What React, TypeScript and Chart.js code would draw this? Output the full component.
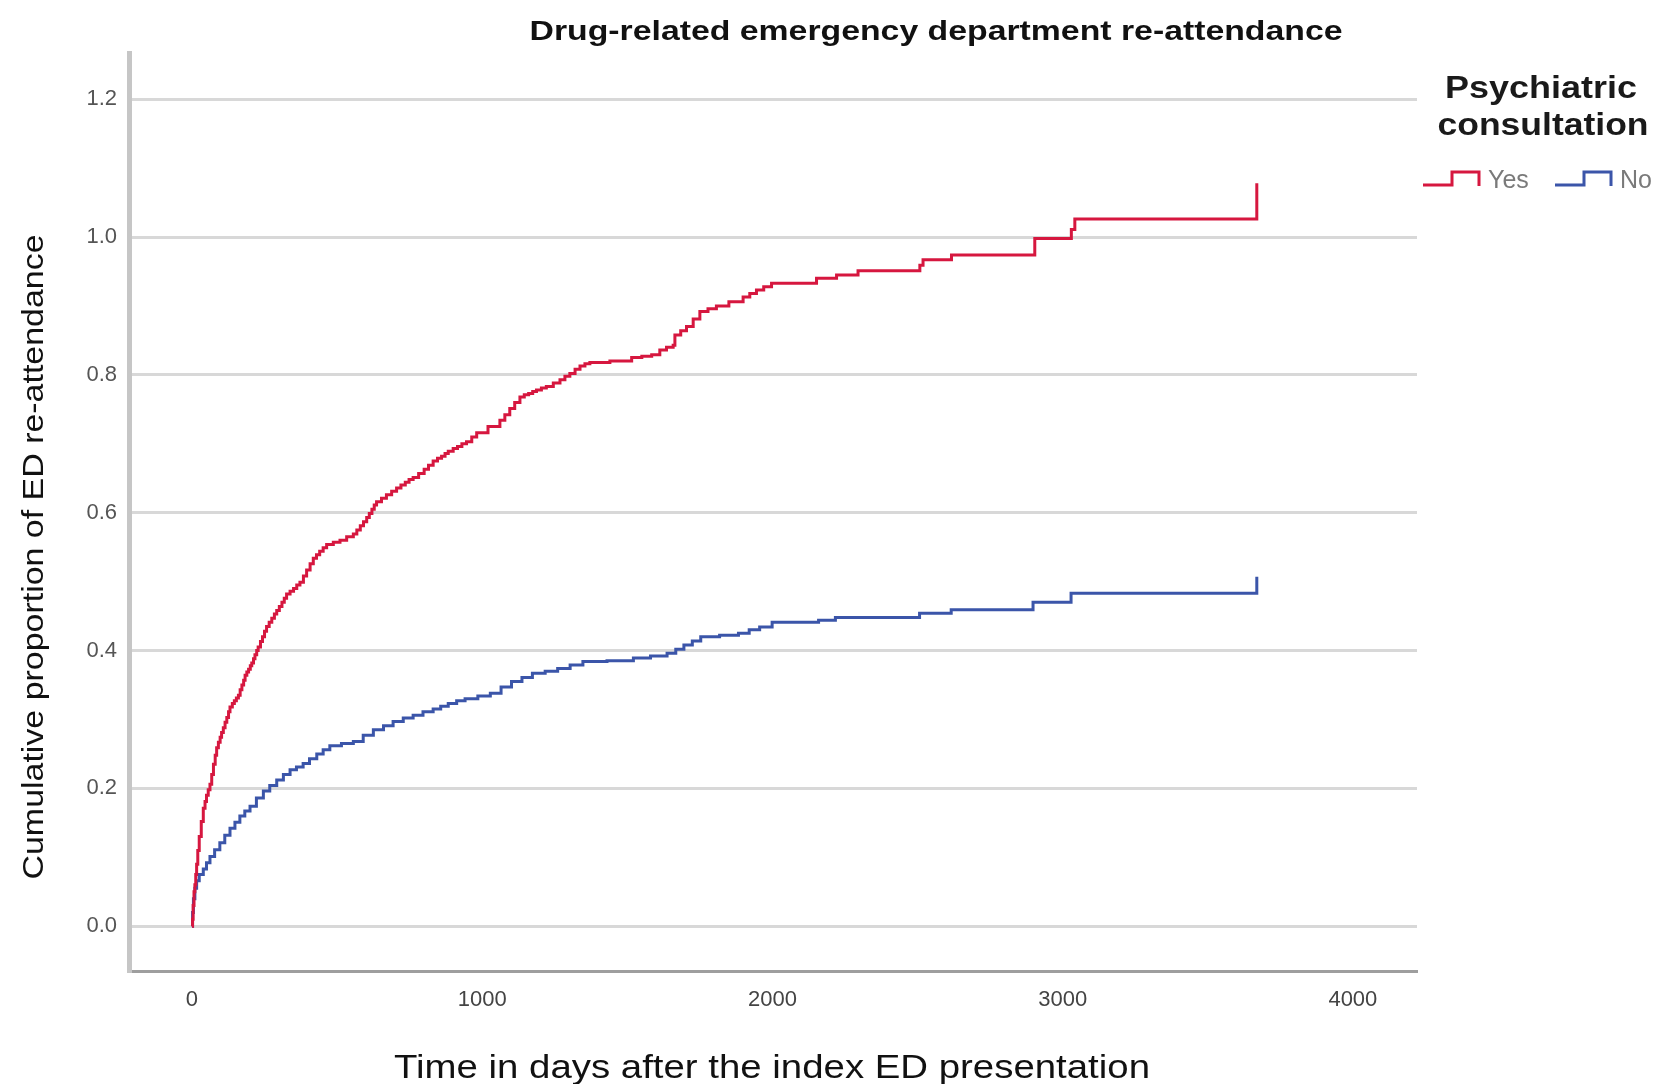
import React, { useEffect, useRef } from "react";
import { Chart, registerables } from "chart.js";

Chart.register(...registerables);

const TITLE = "Drug-related emergency department re-attendance";
const X_TITLE = "Time in days after the index ED presentation";
const Y_TITLE = "Cumulative proportion of ED re-attendance";
const LEGEND_TITLE = ["Psychiatric", "consultation"];
const SERIES_LABELS = ["Yes", "No"];
const X_TICKS = [0, 1000, 2000, 3000, 4000];
const Y_TICKS = [0, 0.2, 0.4, 0.6, 0.8, 1.0, 1.2];

const YES_DAYS = [
  0, 2, 4, 7, 10, 13, 16, 20, 25, 32, 39, 45, 50, 56, 62, 68, 74, 80, 85, 91, 97, 102, 108, 114,
  120, 126, 131, 139, 146, 153, 160, 166, 172, 178, 183, 189, 195, 201, 206, 212, 217, 223, 228,
  236, 243, 250, 257, 266, 275, 284, 292, 301, 310, 318, 326, 338, 350, 361, 372, 384, 395, 407,
  418, 429, 440, 452, 464, 487, 510, 533, 556, 568, 580, 591, 602, 611, 620, 628, 636, 653, 670,
  688, 705, 720, 735, 748, 762, 781, 800, 815, 831, 846, 860, 872, 883, 900, 915, 930, 946, 964,
  981, 1020, 1061, 1078, 1095, 1112, 1130, 1145, 1160, 1174, 1187, 1204, 1221, 1245, 1268, 1285,
  1302, 1320, 1337, 1354, 1371, 1440, 1515, 1550, 1584, 1612, 1635, 1658, 1664, 1684, 1704, 1727,
  1750, 1778, 1807, 1850, 1899, 1922, 1945, 1970, 1997, 2152, 2221, 2295, 2508, 2519, 2617, 2904,
  3030, 3042, 3669,
];
const YES_PROP = [
  0, 0.01, 0.03, 0.05, 0.06, 0.075, 0.09, 0.11, 0.13, 0.152, 0.171, 0.181, 0.19, 0.198, 0.206,
  0.22, 0.235, 0.248, 0.259, 0.267, 0.274, 0.281, 0.288, 0.296, 0.303, 0.311, 0.318, 0.323, 0.327,
  0.331, 0.335, 0.343, 0.35, 0.357, 0.364, 0.369, 0.373, 0.378, 0.382, 0.388, 0.394, 0.4, 0.405,
  0.413, 0.42, 0.428, 0.435, 0.441, 0.447, 0.453, 0.458, 0.464, 0.47, 0.476, 0.482, 0.486, 0.49,
  0.495, 0.499, 0.508, 0.517, 0.526, 0.534, 0.539, 0.544, 0.549, 0.554, 0.557, 0.56, 0.565, 0.569,
  0.575, 0.581, 0.587, 0.593, 0.599, 0.605, 0.611, 0.616, 0.621, 0.626, 0.631, 0.636, 0.64, 0.644,
  0.648, 0.651, 0.657, 0.663, 0.669, 0.675, 0.679, 0.682, 0.686, 0.689, 0.693, 0.696, 0.7, 0.703,
  0.71, 0.716, 0.725, 0.734, 0.742, 0.751, 0.76, 0.768, 0.771, 0.773, 0.776, 0.778, 0.781, 0.783,
  0.788, 0.793, 0.798, 0.802, 0.808, 0.813, 0.816, 0.818, 0.82, 0.825, 0.827, 0.829, 0.836, 0.84,
  0.843, 0.858, 0.864, 0.87, 0.881, 0.892, 0.896, 0.9, 0.906, 0.913, 0.918, 0.923, 0.928, 0.933,
  0.94, 0.945, 0.951, 0.959, 0.967, 0.974, 0.998, 1.011, 1.026, 1.078,
];

const NO_DAYS = [
  0, 2, 5, 10, 16, 25, 39, 50, 62, 78, 96, 113, 131, 148, 165, 182, 200, 222, 246, 268, 292, 315,
  338, 360, 383, 405, 430, 452, 475, 515, 556, 590, 625, 660, 693, 728, 762, 796, 831, 857, 883,
  912, 941, 985, 1028, 1065, 1101, 1137, 1173, 1217, 1260, 1303, 1347, 1430, 1521, 1580, 1637,
  1667, 1695, 1724, 1753, 1818, 1883, 1920, 1956, 1999, 2159, 2217, 2507, 2616, 2898, 3029, 3669,
];
const NO_PROP = [
  0, 0.02, 0.04, 0.055, 0.066, 0.075, 0.083, 0.092, 0.101, 0.111, 0.121, 0.132, 0.142, 0.151, 0.16,
  0.167, 0.174, 0.186, 0.196, 0.204, 0.212, 0.22, 0.227, 0.231, 0.236, 0.243, 0.25, 0.256, 0.262,
  0.265, 0.268, 0.277, 0.285, 0.291, 0.297, 0.302, 0.306, 0.311, 0.315, 0.319, 0.323, 0.327, 0.33,
  0.334, 0.338, 0.347, 0.355, 0.361, 0.367, 0.37, 0.374, 0.379, 0.384, 0.385, 0.389, 0.392, 0.396,
  0.402, 0.408, 0.414, 0.42, 0.422, 0.425, 0.43, 0.434, 0.441, 0.444, 0.448, 0.454, 0.459, 0.47,
  0.483, 0.507,
];

const RED = "#D6173F";
const BLUE = "#3B55A9";
const FONT = '"Liberation Sans", Arial, Helvetica, sans-serif';

function fitText(
  ctx: CanvasRenderingContext2D,
  text: string,
  cx: number,
  cy: number,
  width: number,
  font: string,
  color: string,
  rotate = false
) {
  ctx.save();
  ctx.font = font;
  ctx.fillStyle = color;
  ctx.textAlign = "center";
  ctx.textBaseline = "middle";
  const w = ctx.measureText(text).width;
  ctx.translate(cx, cy);
  if (rotate) ctx.rotate(-Math.PI / 2);
  ctx.scale(width / w, 1);
  ctx.fillText(text, 0, 0);
  ctx.restore();
}

const textPlugin = {
  id: "customText",
  afterDraw(chart: any) {
    const ctx: CanvasRenderingContext2D = chart.ctx;
    fitText(ctx, TITLE, 936, 33, 813, `bold 27px ${FONT}`, "#111");
    fitText(ctx, Y_TITLE, 35, 557, 645, `29px ${FONT}`, "#111", true);
    fitText(ctx, X_TITLE, 772, 1069, 756, `34px ${FONT}`, "#111");
    fitText(ctx, LEGEND_TITLE[0], 1541, 89, 192, `bold 31px ${FONT}`, "#1a1a1a");
    fitText(ctx, LEGEND_TITLE[1], 1543, 126, 211, `bold 31px ${FONT}`, "#1a1a1a");

    const items = [
      { x0: 1423, label: SERIES_LABELS[0], color: chart.data.datasets[0].borderColor },
      { x0: 1555, label: SERIES_LABELS[1], color: chart.data.datasets[1].borderColor },
    ];
    items.forEach((it) => {
      ctx.save();
      ctx.strokeStyle = it.color;
      ctx.lineWidth = 3;
      ctx.beginPath();
      ctx.moveTo(it.x0, 185);
      ctx.lineTo(it.x0 + 29, 185);
      ctx.lineTo(it.x0 + 29, 172);
      ctx.lineTo(it.x0 + 56, 172);
      ctx.lineTo(it.x0 + 56, 186);
      ctx.stroke();
      ctx.font = `25px ${FONT}`;
      ctx.fillStyle = "#7a7a7a";
      ctx.textAlign = "left";
      ctx.textBaseline = "middle";
      ctx.fillText(it.label, it.x0 + 65, 181);
      ctx.restore();
    });
  },
};

export default function App() {
  const ref = useRef<HTMLCanvasElement | null>(null);

  useEffect(() => {
    document.body.style.margin = "0";
    const canvas = ref.current;
    if (!canvas) return;
    const yesData = YES_DAYS.map((d, i) => ({ x: d, y: YES_PROP[i] }));
    const noData = NO_DAYS.map((d, i) => ({ x: d, y: NO_PROP[i] }));
    const chart = new Chart(canvas, {
      type: "line",
      data: {
        datasets: [
          {
            label: SERIES_LABELS[0],
            data: yesData,
            borderColor: RED,
            borderWidth: 3,
            stepped: "before",
            pointRadius: 0,
            fill: false,
          },
          {
            label: SERIES_LABELS[1],
            data: noData,
            borderColor: BLUE,
            borderWidth: 3,
            stepped: "before",
            pointRadius: 0,
            fill: false,
          },
        ],
      },
      options: {
        responsive: false,
        animation: false,
        devicePixelRatio: 1,
        layout: { padding: { top: 53, right: 238, left: 0, bottom: 0 } },
        plugins: {
          legend: { display: false },
          title: { display: false },
          tooltip: { enabled: false },
        },
        scales: {
          x: {
            type: "linear",
            min: -217,
            max: 4221,
            afterBuildTicks: (scale: any) => {
              scale.ticks = X_TICKS.map((v) => ({ value: v }));
            },
            afterFit: (scale: any) => {
              scale.height = 113;
            },
            grid: { display: false, drawTicks: false },
            border: { display: true, color: "#9e9e9e", width: 3 },
            ticks: {
              padding: 16,
              color: "#444",
              font: { family: FONT, size: 22 },
              maxRotation: 0,
              callback: (v: any) => String(v),
            },
          },
          y: {
            type: "linear",
            min: -0.065,
            max: 1.267,
            afterBuildTicks: (scale: any) => {
              scale.ticks = Y_TICKS.map((v) => ({ value: v }));
            },
            afterFit: (scale: any) => {
              scale.width = 129;
            },
            grid: { display: true, color: "#d8d8d8", lineWidth: 3, drawTicks: false },
            border: { display: true, color: "#c6c6c6", width: 5 },
            ticks: {
              padding: 12,
              color: "#555",
              font: { family: FONT, size: 22 },
              callback: (v: any) => Number(v).toFixed(1),
            },
          },
        },
      },
      plugins: [textPlugin],
    } as any);
    return () => chart.destroy();
  }, []);

  return (
    <div style={{ position: "absolute", left: 0, top: 0, width: 1655, height: 1084, background: "#fff" }}>
      <canvas ref={ref} width={1655} height={1084} style={{ display: "block", width: 1655, height: 1084 }} />
    </div>
  );
}
